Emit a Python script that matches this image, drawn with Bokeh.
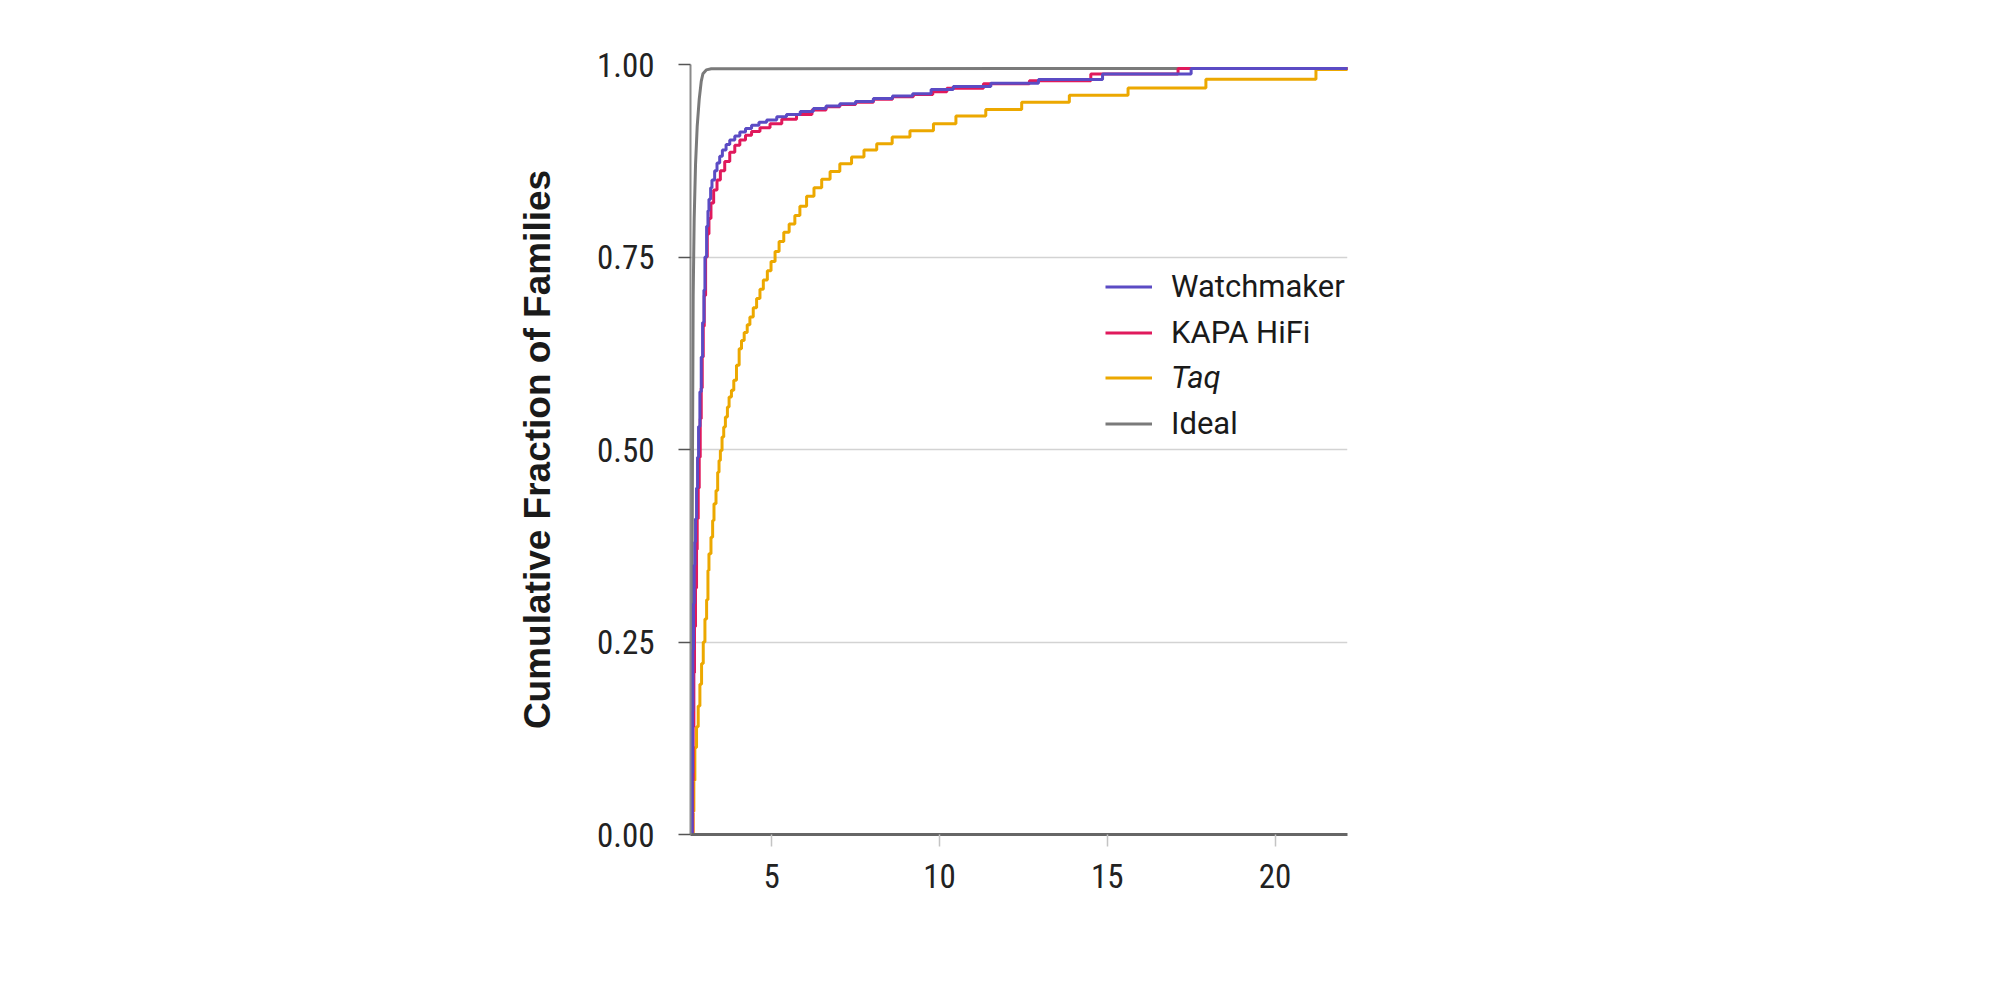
from bokeh.plotting import figure
from bokeh.models import Range1d, FixedTicker, Legend, LegendItem
from bokeh.embed import file_html
from bokeh.resources import INLINE

# ---- data ----
watch_x = [2.615, 2.63, 2.64, 2.65, 2.67, 2.69, 2.71, 2.73, 2.76, 2.79, 2.82, 2.86, 2.90, 2.94, 2.98,
           3.01, 3.06, 3.10, 3.13, 3.18, 3.22, 3.30, 3.37, 3.45, 3.53, 3.64, 3.75, 3.90, 4.05, 4.22,
           4.40, 4.62, 4.85, 5.15, 5.44, 5.85, 6.24, 6.62, 7.03, 7.50, 8.03, 8.60, 9.20, 9.75, 10.41,
           11.53, 12.95, 14.86, 17.50, 22.2]
watch_y = [0.0, 0.08, 0.16, 0.24, 0.30, 0.35, 0.38, 0.41, 0.45, 0.49, 0.53, 0.575, 0.62, 0.665, 0.707,
           0.75, 0.79, 0.81, 0.825, 0.84, 0.85, 0.862, 0.872, 0.881, 0.889, 0.896, 0.902, 0.907, 0.9125, 0.917,
           0.921, 0.925, 0.928, 0.932, 0.935, 0.939, 0.943, 0.946, 0.949, 0.952, 0.956, 0.959, 0.962, 0.9675, 0.9714,
           0.9757, 0.9805, 0.9878, 0.9948, 0.9948]

kapa_x = [2.625, 2.645, 2.66, 2.68, 2.70, 2.73, 2.76, 2.78, 2.81, 2.84, 2.87, 2.90, 2.93, 2.96, 2.99,
          3.03, 3.08, 3.13, 3.19, 3.27, 3.37, 3.47, 3.60, 3.75, 3.90, 4.05, 4.22, 4.40, 4.65, 4.95,
          5.30, 5.74, 6.20, 6.62, 7.03, 7.50, 8.03, 8.60, 9.22, 9.80, 10.22, 11.31, 12.68, 14.51, 17.11, 22.2]
kapa_y = [0.0, 0.07, 0.14, 0.21, 0.27, 0.32, 0.37, 0.41, 0.45, 0.49, 0.54, 0.58, 0.62, 0.66, 0.70,
          0.75, 0.78, 0.80, 0.82, 0.837, 0.85, 0.862, 0.874, 0.886, 0.895, 0.902, 0.908, 0.913, 0.918, 0.923,
          0.929, 0.935, 0.941, 0.945, 0.948, 0.951, 0.955, 0.958, 0.961, 0.9645, 0.969, 0.975, 0.979, 0.9878, 0.9948, 0.9948]

taq_x = [2.645, 2.66, 2.68, 2.71, 2.76, 2.81, 2.86, 2.91, 2.96, 3.01, 3.06, 3.10, 3.13, 3.19, 3.24,
         3.28, 3.34, 3.39, 3.43, 3.47, 3.52, 3.57, 3.62, 3.68, 3.73, 3.80, 3.87, 3.95, 4.03, 4.10,
         4.18, 4.27, 4.35, 4.45, 4.55, 4.65, 4.75, 4.87, 4.98, 5.10, 5.22, 5.36, 5.52, 5.69, 5.84,
         6.04, 6.26, 6.49, 6.74, 7.03, 7.38, 7.75, 8.13, 8.59, 9.12, 9.82, 10.49, 11.38, 12.45, 13.87,
         15.62, 17.94, 21.22, 22.2]
taq_y = [0.0, 0.03, 0.07, 0.113, 0.14, 0.167, 0.195, 0.222, 0.25, 0.28, 0.305, 0.343, 0.3645, 0.3862, 0.4078,
         0.4295, 0.4468, 0.4706, 0.4858, 0.4988, 0.5161, 0.5291, 0.5421, 0.5551, 0.5681, 0.5768, 0.5898, 0.6093, 0.6309, 0.6417,
         0.652, 0.662, 0.672, 0.684, 0.696, 0.708, 0.720, 0.732, 0.744, 0.757, 0.770, 0.782, 0.793, 0.804, 0.816,
         0.829, 0.840, 0.851, 0.861, 0.871, 0.880, 0.889, 0.897, 0.906, 0.914, 0.923, 0.933, 0.9415, 0.951, 0.960,
         0.9696, 0.981, 0.9935, 0.9935]

ideal_x = [2.60, 2.62, 2.64, 2.66, 2.69, 2.73, 2.78, 2.84, 2.90, 2.95, 3.05, 3.20, 22.2]
ideal_y = [0.0, 0.25, 0.5, 0.70, 0.80, 0.87, 0.92, 0.955, 0.978, 0.988, 0.993, 0.9945, 0.9948]

x_ticks = [5, 10, 15, 20]
x_tick_labels = ["5", "10", "15", "20"]
y_ticks = [0.0, 0.25, 0.5, 0.75, 1.0]
y_tick_labels = ["0.00", "0.25", "0.50", "0.75", "1.00"]

series_names = ["Watchmaker", "KAPA HiFi", "Taq", "Ideal"]
series_colors = ["#5b4bc4", "#e0195c", "#eca800", "#7a7a7a"]

TICK_FONT = "Roboto Condensed, Roboto, sans-serif"

p = figure(frame_width=657, frame_height=770,
           x_range=Range1d(2.58, 22.16), y_range=Range1d(0, 1.0),
           output_backend="svg", toolbar_location=None,
           min_border_left=690, min_border_top=64, min_border_right=560, min_border_bottom=110)
p.outline_line_color = None
p.background_fill_color = "white"

# axes
p.xaxis.ticker = FixedTicker(ticks=x_ticks)
p.xaxis.major_label_overrides = {t: l for t, l in zip(x_ticks, x_tick_labels)}
p.yaxis.ticker = FixedTicker(ticks=y_ticks)
p.yaxis.major_label_overrides = {t: l for t, l in zip(y_ticks, y_tick_labels)}

p.xaxis.axis_line_color = "#666666"
p.xaxis.axis_line_width = 3
p.xaxis.major_tick_line_color = "#c4c4c4"
p.xaxis.major_tick_line_width = 1.5
p.xaxis.major_tick_out = 12
p.xaxis.major_tick_in = 0
p.xaxis.minor_tick_line_color = None
p.xaxis.major_label_standoff = 17
p.xaxis.major_label_text_font = TICK_FONT
p.xaxis.major_label_text_font_size = "33px"
p.xaxis.major_label_text_color = "#222222"

p.yaxis.axis_line_color = "#8a8a8a"
p.yaxis.axis_line_width = 2
p.yaxis.major_tick_line_color = "#555555"
p.yaxis.major_tick_line_width = 1.5
p.yaxis.major_tick_out = 12
p.yaxis.major_tick_in = 0
p.yaxis.minor_tick_line_color = None
p.yaxis.major_label_standoff = 24
p.yaxis.major_label_text_font = TICK_FONT
p.yaxis.major_label_text_font_size = "33px"
p.yaxis.major_label_text_color = "#222222"
p.yaxis.axis_label = "Cumulative Fraction of Families"
p.yaxis.axis_label_text_font = "Liberation Sans, Arial, sans-serif"
p.yaxis.axis_label_text_font_style = "bold"
p.yaxis.axis_label_text_font_size = "37px"
p.yaxis.axis_label_text_color = "#1a1a1a"
p.yaxis.axis_label_standoff = 36

p.xgrid.grid_line_color = None
p.ygrid.grid_line_color = "#d3d3d3"
p.ygrid.grid_line_width = 1.5

# series (ideal underneath, watchmaker on top)
r_ideal = p.line(ideal_x, ideal_y, line_color=series_colors[3], line_width=3)
r_taq = p.step(taq_x, taq_y, mode="after", line_color=series_colors[2], line_width=3)
r_kapa = p.step(kapa_x, kapa_y, mode="after", line_color=series_colors[1], line_width=3)
r_watch = p.step(watch_x, watch_y, mode="after", line_color=series_colors[0], line_width=3)

def make_legend(items, loc, style="normal"):
    lg = Legend(items=items, location=loc, orientation="vertical",
                glyph_width=47, glyph_height=45, label_height=45, spacing=1,
                label_standoff=19, padding=0, margin=0,
                label_text_font="Roboto, sans-serif", label_text_font_size="31px",
                label_text_color="#1a1a1a", label_text_font_style=style,
                background_fill_alpha=0, border_line_color=None)
    p.add_layout(lg)
    return lg

make_legend([LegendItem(label=series_names[0], renderers=[r_watch]),
             LegendItem(label=series_names[1], renderers=[r_kapa])], (415, 479))
make_legend([LegendItem(label=series_names[2], renderers=[r_taq])], (415, 434), style="italic")
make_legend([LegendItem(label=series_names[3], renderers=[r_ideal])], (415, 388))

open("out.html", "w").write(file_html(p, INLINE))
